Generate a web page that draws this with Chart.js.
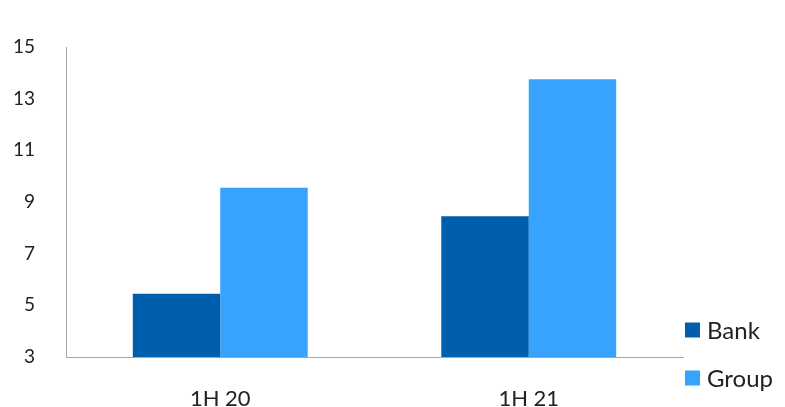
<!DOCTYPE html>
<html>
<head>
<meta charset="utf-8">
<script src="https://cdn.jsdelivr.net/npm/chart.js@4/dist/chart.umd.min.js"></script>
<style>
  html, body { margin: 0; padding: 0; background: #fff; }
  #wrap { width: 785px; height: 407px; }
</style>
</head>
<body>
<div id="wrap"><canvas id="myChart" width="785" height="407"></canvas></div>
<script>
"use strict";

// chart data
var periods = ['1H 20', '1H 21'];
var bankValues = [5.45, 8.45];
var groupValues = [9.55, 13.75];
var seriesNames = ['Bank', 'Group'];
var seriesColors = ['#005FAD', '#37A3FF'];
var yMin = 3, yMax = 15, yStep = 2;

// legend drawn at the lower right, next to the plot
var sideLegend = {
	id: 'sideLegend',
	afterDraw: function (chart) {
		var ctx = chart.ctx;
		var area = chart.chartArea;
		ctx.save();
		ctx.font = '24px Lato';
		ctx.textBaseline = 'middle';
		chart.data.datasets.forEach(function (ds, i) {
			var cy = area.bottom - 27 + i * 48;
			ctx.fillStyle = ds.backgroundColor;
			ctx.fillRect(area.right + 2, cy - 7.5, 15, 15);
			ctx.fillStyle = '#222';
			ctx.fillText(ds.label, area.right + 24, cy + 1);
		});
		ctx.restore();
	}
};

var config = {
	type: 'bar',
	data: {
		labels: periods,
		datasets: [
			{ label: seriesNames[0], data: bankValues, backgroundColor: seriesColors[0] },
			{ label: seriesNames[1], data: groupValues, backgroundColor: seriesColors[1] }
		]
	},
	options: {
		responsive: false,
		animation: false,
		layout: { padding: { top: 47, right: 102, bottom: 0, left: 0 } },
		datasets: { bar: { barPercentage: 1, categoryPercentage: 0.567 } },
		plugins: {
			legend: { display: false },
			tooltip: { enabled: false }
		},
		scales: {
			x: {
				grid: { display: false },
				border: { display: true, color: '#a8a8a8', width: 1 },
				ticks: { color: '#222', font: { family: 'Lato', size: 22 }, padding: 21 },
				afterFit: function (scale) { scale.height = 50; }
			},
			y: {
				min: yMin,
				max: yMax,
				grid: { display: false, drawTicks: false },
				border: { display: true, color: '#a8a8a8', width: 1 },
				ticks: { stepSize: yStep, color: '#222', font: { family: 'Lato', size: 19 }, padding: 31 },
				afterFit: function (scale) { scale.width = 66; }
			}
		}
	},
	plugins: [sideLegend]
};

var myChart = new Chart(document.getElementById('myChart'), config);
</script>
</body>
</html>
